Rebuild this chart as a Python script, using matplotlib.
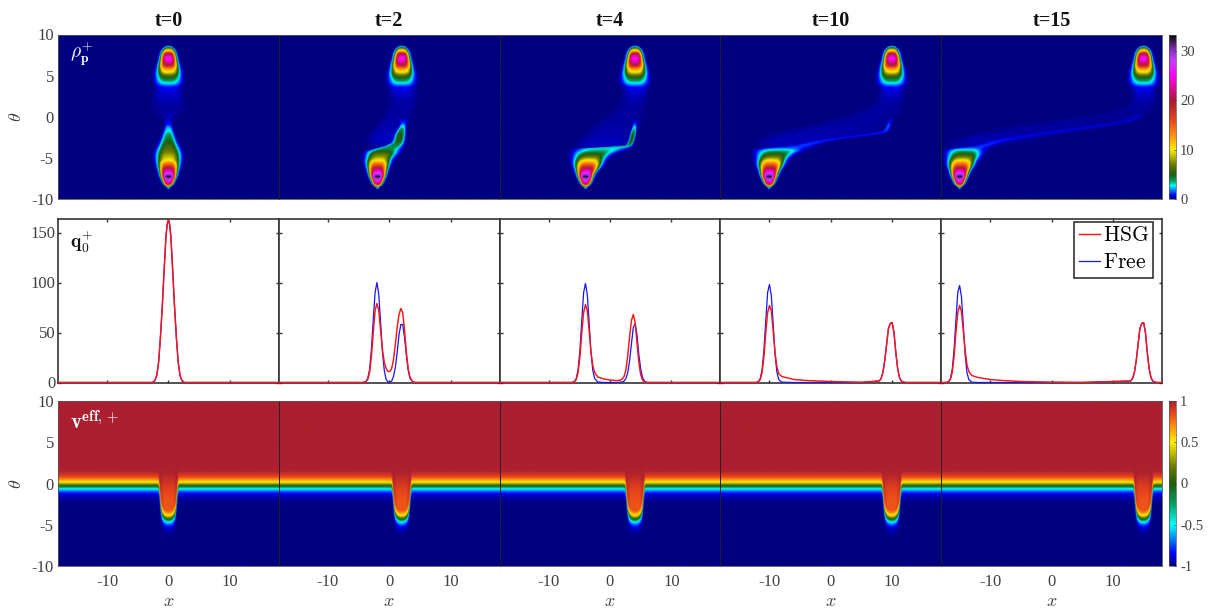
import numpy as np
import matplotlib
matplotlib.use("Agg")
import matplotlib.pyplot as plt
from matplotlib.colors import LinearSegmentedColormap, Normalize
from matplotlib.cm import ScalarMappable

plt.rcParams['font.family'] = ['Liberation Serif', 'DejaVu Serif']
plt.rcParams['mathtext.fontset'] = 'cm'
plt.rcParams['axes.unicode_minus'] = False

W, H = 1208, 608
GREY = '#404040'
TIMES = [0, 2, 4, 10, 15]
TITLES = ['t=0', 't=2', 't=4', 't=10', 't=15']

# --- colour scales
RHO_STOPS = [0, .8, 2.7, 3.6, 5, 7, 10, 13, 16, 19.5, 21, 25, 28, 30, 32, 33.3]
RHO_COLORS = ['#000080', '#0000ff', '#00ffff', '#00a060', '#1f5c10', '#6b7a00', '#ffee00', '#ff8c10',
              '#e8451a', '#ab1f2f', '#c4105a', '#ff00ff', '#c83cff', '#9030d0', '#3a1a50', '#000000']
V_STOPS = [-1, -.85, -.5, -.25, 0, .2, .5, .7, .85, 1]
V_COLORS = ['#000080', '#0000ff', '#00ffff', '#00a060', '#1f5c10', '#6b7a00', '#ffee00', '#ff8c10',
            '#e8451a', '#ab1f2f']

# --- rho: upper lobe (same in every panel, centred on x=+t)
UP_THETA = [3.6, 4.05, 4.6, 5.0, 5.4, 5.8, 6.2, 6.6, 7.1, 7.4, 7.7, 7.9, 8.1, 8.5, 8.65]
UP_PEAK = [0, 2.7, 4.6, 6.5, 10, 13, 19, 23, 26, 23, 19, 13, 10, 3, 0]
UP_HALF = [1.95, 1.95, 1.9, 1.82, 1.68, 1.55, 1.42, 1.28, 1.15, 1.1, 1.05, 1.0, .93, .6, .3]

# --- rho: lower lobe + strand, per panel
LOW_THETA = {
    0: [-8.9, -8.6, -8.3, -8, -7.6, -7.3, -7, -6.5, -5.9, -5.3, -4.6, -4, -3, -2.2, -1.7, -1.3, -1, -.5, 0, 1],
    2: [-8.9, -8.6, -8.3, -8, -7.6, -7.3, -7, -6.5, -5.9, -5.3, -4.9, -4.5, -4.2, -3.9, -3.6, -3.2, -2.8, -2.2, -1.6, -1.2, -.8, -.4],
    4: [-8.9, -8.6, -8.3, -8, -7.6, -7.3, -7, -6.5, -5.9, -5.3, -4.9, -4.5, -4.2, -3.9, -3.7, -3.5, -3, -2.4, -1.8, -1.3, -.9, -.5],
    10: [-8.9, -8.6, -8.3, -8, -7.6, -7.3, -7, -6.5, -5.9, -5.3, -4.9, -4.5, -4.2, -4, -3.85, -3.6, -3.3, -3, -2.7, -2.4, -2.1, -1.85, -1.5, -1.1, -.6, -.2],
    15: [-8.9, -8.6, -8.3, -8, -7.6, -7.3, -7, -6.5, -5.9, -5.3, -4.9, -4.5, -4.2, -4, -3.85, -3.6, -3.3, -3, -2.7, -2.4, -2.1, -1.8, -1.5, -1.2, -.9, -.6, -.2, .3],
}
LOW_LEFT = {
    0: [-.1, -.3, -.62, -.8, -.95, -1.08, -1.18, -1.32, -1.52, -1.72, -1.8, -1.65, -1.15, -.85, -.7, -.6, -.55, -.6, -.9, -1.5],
    2: [-2.05, -2.25, -2.57, -2.75, -2.9, -3.03, -3.13, -3.27, -3.47, -3.62, -3.55, -3.5, -3.3, -2.2, -.6, .5, .8, 1.0, 1.4, 1.7, 1.8, 1.6],
    4: [-4.15, -4.35, -4.67, -4.85, -5, -5.13, -5.23, -5.37, -5.57, -5.67, -5.65, -5.65, -5.5, -5.1, -.5, 2.6, 3.0, 3.2, 3.4, 3.6, 3.7, 3.6],
    10: [-10.1, -10.3, -10.62, -10.8, -10.95, -11.08, -11.18, -11.32, -11.52, -11.62, -11.65, -11.7, -11.7, -11.6, -11.2, -6.5, -4.5, -2.5, 0, 3, 6, 8.3, 8.9, 9.1, 9.4, 9.6],
    15: [-15.1, -15.3, -15.62, -15.8, -15.95, -16.08, -16.18, -16.32, -16.52, -16.62, -16.65, -16.7, -16.7, -16.6, -16, -12.5, -11, -10, -8, -5.5, -3, 0, 3, 6, 8.5, 11, 13, 14],
}
LOW_RIGHT = {
    0: [.1, .3, .62, .8, .95, 1.08, 1.18, 1.32, 1.52, 1.72, 1.8, 1.65, 1.15, .85, .7, .6, .55, .6, .9, 1.5],
    2: [-1.85, -1.65, -1.33, -1.15, -1.0, -.87, -.77, -.63, -.33, .02, .4, .95, 1.3, 1.6, 2.0, 2.3, 2.4, 2.5, 2.6, 2.6, 2.7, 3.0],
    4: [-3.95, -3.75, -3.43, -3.25, -3.1, -2.97, -2.87, -2.4, -1.83, -1.38, -.9, -.1, 1.1, 2.2, 3.0, 3.5, 3.8, 4.0, 4.15, 4.2, 4.3, 4.5],
    10: [-9.9, -9.7, -9.38, -9.2, -9.05, -8.92, -8.8, -8.5, -8.03, -7.58, -7.1, -6.3, -5.3, -4.8, -4.0, -3, -2, -.5, 2.3, 5.2, 8.5, 9.3, 9.6, 9.8, 10, 10.2],
    15: [-14.9, -14.7, -14.38, -14.2, -14.05, -13.92, -13.8, -13.5, -13.03, -12.58, -12.1, -11.7, -11.5, -11.3, -10.8, -10, -9, -7.8, -5.5, -3, -.2, 2.8, 5.8, 8.5, 11, 13, 14.3, 15],
}
LOW_PEAK = {
    0: [0, 4, 17, 24, 29, 33, 29, 23, 16, 10, 8, 6.5, 5, 3.8, 2.8, 2, 1, .5, .25, 0],
    2: [0, 4, 17, 24, 29, 33, 29, 23, 16, 10, 8, 6.5, 5, 4, 4, 4.5, 5, 5, 4, 2.6, 1, .4],
    4: [0, 4, 17, 24, 29, 33, 29, 23, 16, 10, 7, 5, 3.6, 3.0, 3.2, 4, 5, 5, 4, 2.5, 1, .4],
    10: [0, 4, 17, 24, 29, 33, 29, 23, 16, 10, 7, 5, 3.6, 2.6, 1.4, .95, .85, .8, .75, .75, .85, 1.0, 1.3, 1.3, .7, .3],
    15: [0, 4, 17, 24, 29, 33, 29, 23, 16, 10, 7, 5, 3.6, 2.6, 1.4, .9, .75, .62, .52, .46, .43, .4, .4, .4, .42, .45, .42, .3],
}

# --- rho: faint blue haze, per panel
HAZE_THETA = {
    0: [-1, 0, 1, 2, 3, 3.6, 4.0],
    2: [-4, -3, -2, -1, 0, 1, 2, 3, 3.6, 4.0],
    4: [-4, -3.5, -3, -2, -1, 0, 1, 2, 3, 3.6, 4.0],
    10: [-4, -3.5, -3, -2.5, -2, -1, 0, 1, 2, 3, 3.6, 4.0],
    15: [-4, -3.5, -3, -2.5, -2, -1, 0, 1, 2, 3, 3.6, 4.0],
}
HAZE_LEFT = {
    0: [-1, -2.2, -2.9, -2.6, -2.2, -1.9, -1.8],
    2: [-3.5, -3.5, -3, -2, -1, -.2, .2, .1, 0, 0],
    4: [-5.6, -5.6, -5, -4, -2.5, -1, .8, 2, 2.2, 2.2, 2.2],
    10: [-11.4, -11.5, -11.5, -10.5, -9, -3, 2, 6, 7.8, 8.2, 8.2, 8.2],
    15: [-16.3, -16.5, -16, -15, -12, -6, 5, 12, 13.2, 13.2, 13.2, 13.2],
}
HAZE_RIGHT = {
    0: [1, 2.2, 2.9, 2.6, 2.2, 1.9, 1.8],
    2: [1.0, 1.5, 2, 3, 3.6, 4.2, 4.4, 4.2, 3.9, 3.9],
    4: [3, 3.4, 3.6, 4, 5, 5.5, 5.8, 5.9, 5.9, 5.9, 5.9],
    10: [-4, -2, -.5, 3, 8, 9.5, 11, 11.8, 11.9, 11.9, 11.9, 11.9],
    15: [-10, -8, -5, -1, 3, 12, 15.5, 16.8, 16.9, 16.9, 16.9, 16.9],
}
HAZE_PEAK = {
    0: [0, .1, .2, .35, .6, .9, 0],
    2: [0, .45, .4, .3, .25, .25, .3, .55, .9, 0],
    4: [0, .45, .4, .3, .25, .2, .2, .3, .55, .9, 0],
    10: [0, .35, .4, .35, .3, .25, .2, .2, .3, .55, .9, 0],
    15: [0, .3, .35, .3, .25, .2, .18, .2, .3, .55, .9, 0],
}

# --- v_eff: value across the front, and front depth along x relative to x=+t
V_OFFSET = [-2.4, -1.7, -1.3, -1.0, -.75, -.5, -.3, -.12, 0, .15, .3, .48, .68, .88, 1.1, 1.4, 1.8, 2.4]
V_VALUE = [-1, -.97, -.93, -.88, -.76, -.6, -.42, -.18, 0, .2, .35, .5, .65, .75, .84, .92, .98, 1]
FRONT_DX = [-20, -1.75, -1.6, -1.5, -1.4, -1.3, -1.2, -1.0, -.7, -.35, 0, .35, .7, 1.0, 1.2, 1.3, 1.4, 1.5, 1.6, 1.75, 20]
FRONT_THETA = [-.28, -.28, -.4, -.8, -1.6, -2.5, -3.2, -3.8, -4.15, -4.3, -4.33, -4.3, -4.15, -3.8, -3.2, -2.5, -1.6, -.8, -.4, -.28, -.28]
# orange tone kept inside the dip
CAP_THETA = [-5, -2, -1, 0, 1, 1.8]
CAP_VALUE = [.82, .82, .85, .9, .97, 1]
CAP_DX = [-1.5, -1.1, -.7, .7, 1.1, 1.5]
CAP_WEIGHT = [0, .7, 1, 1, .7, 0]

# --- q curves
Q_X = {
    0: [-18, -2.6, -2.2, -1.9, -1.6, -1.3, -1.0, -.7, -.4, -.2, 0, .2, .4, .7, 1.0, 1.3, 1.6, 1.9, 2.2, 2.6, 18],
    2: [-18, -4.2, -3.8, -3.5, -3.2, -2.9, -2.6, -2.3, -2.0, -1.7, -1.4, -1.1, -.8, -.5, -.2, .1, .4, .7, 1.0, 1.3, 1.6, 1.9, 2.2, 2.5, 2.8, 3.1, 3.4, 3.8, 4.2, 18],
    4: [-18, -6.2, -5.8, -5.5, -5.2, -4.9, -4.6, -4.3, -4, -3.7, -3.4, -3.1, -2.8, -2.5, -2, -1, 0, 1, 1.6, 2, 2.3, 2.6, 2.9, 3.2, 3.5, 3.8, 4.1, 4.4, 4.7, 5, 5.3, 5.6, 6, 18],
    10: [-18, -12.2, -11.8, -11.5, -11.2, -10.9, -10.6, -10.3, -10, -9.7, -9.4, -9.1, -8.8, -8.5, -8, -6, -4, 0, 5, 7.9, 8.2, 8.5, 8.8, 9.1, 9.4, 9.7, 10, 10.3, 10.6, 10.9, 11.2, 11.5, 11.8, 12.2, 18],
    15: [-18, -17.2, -16.8, -16.5, -16.2, -15.9, -15.6, -15.3, -15, -14.7, -14.4, -14.1, -13.8, -13.5, -13, -12, -10, -8, -5, 0, 5, 12.9, 13.2, 13.5, 13.8, 14.1, 14.4, 14.7, 15, 15.3, 15.6, 15.9, 16.2, 16.5, 16.8, 17.2, 18],
}
Q_HSG = {
    0: [0, 0, 2, 7, 20, 45, 76, 112, 146, 158, 163, 158, 146, 112, 76, 45, 20, 7, 2, 0, 0],
    2: [0, 0, 1, 3, 10, 26, 50, 72, 79, 72, 52, 33, 20, 14, 11, 11, 14, 23, 38, 55, 68, 74, 70, 52, 30, 14, 5, 1, 0, 0],
    4: [0, 0, 1, 3, 10, 26, 50, 70, 78, 72, 52, 30, 17, 10, 5.5, 3.5, 2.5, 2, 2.2, 3.5, 6, 13, 27, 46, 62, 68, 60, 40, 20, 8, 2.5, .5, 0, 0],
    10: [0, 0, 1, 3, 10, 26, 50, 70, 77, 72, 52, 30, 16, 9, 6, 3, 2, 1, .3, 1.5, 4, 10, 22, 38, 54, 59, 60, 50, 30, 14, 5, 1.5, .5, 0, 0],
    15: [0, 0, 1, 3, 10, 26, 50, 70, 77, 71, 52, 32, 18, 11, 7, 5, 3, 2, 1, .4, .1, 1.5, 4, 10, 22, 38, 54, 59, 60, 50, 30, 14, 5, 1.5, .5, 0, 0],
}
Q_FREE = {
    0: [0, 0, 2, 7, 20, 45, 76, 112, 146, 158, 163, 158, 146, 112, 76, 45, 20, 7, 2, 0, 0],
    2: [0, 0, 1, 4, 13, 33, 63, 90, 100, 88, 60, 30, 12, 3, .5, .5, 1.5, 6, 15, 30, 48, 58, 58, 45, 27, 12, 4, 1, 0, 0],
    4: [0, 0, 1, 4, 13, 33, 62, 90, 99, 88, 60, 30, 12, 4, .5, 0, 0, 0, .3, .5, 1.5, 4, 10, 22, 39, 55, 59, 48, 28, 14, 5, 1.5, 0, 0],
    10: [0, 0, 1, 4, 13, 33, 62, 90, 98, 87, 59, 29, 11, 3, .3, 0, 0, 0, 0, 1.5, 4, 10, 22, 38, 54, 59, 60, 50, 30, 14, 5, 1.5, .5, 0, 0],
    15: [0, 0, 1, 4, 13, 33, 62, 90, 97, 86, 58, 28, 10, 3, .3, 0, 0, 0, 0, 0, 0, 1.5, 4, 10, 22, 38, 54, 59, 60, 50, 30, 14, 5, 1.5, .5, 0, 0],
}

# --- axes ticks
X_TICKS = [-10, 0, 10]
THETA_TICKS = [-10, -5, 0, 5, 10]
Q_TICKS = [0, 50, 100, 150]
RHO_CBAR_TICKS = [0, 10, 20, 30]
V_CBAR_TICKS = [-1, -.5, 0, .5, 1]


def px_axes(fig, x0, y0, x1, y1):
    return fig.add_axes([x0 / W, 1 - y1 / H, (x1 - x0) / W, (y1 - y0) / H])


cmap_rho = LinearSegmentedColormap.from_list('rho', [(s / 33.3, c) for s, c in zip(RHO_STOPS, RHO_COLORS)], N=512)
cmap_v = LinearSegmentedColormap.from_list('v', [((s + 1) / 2, c) for s, c in zip(V_STOPS, V_COLORS)], N=512)
norm_rho = Normalize(0, 33.3)
norm_v = Normalize(-1, 1)

xg = np.linspace(-18, 18, 662)
tg = np.linspace(-10, 10, 500)


def ridge(th, left, right, peak, p=3.5):
    l = np.interp(tg, th, left)[:, None]
    r = np.interp(tg, th, right)[:, None]
    a = np.interp(tg, th, peak, left=0, right=0)[:, None]
    c, w = (l + r) / 2, np.maximum((r - l) / 2, 1e-3)
    return a * np.exp(-np.abs((xg[None, :] - c) / w) ** p)


def rho_field(t):
    up = ridge(UP_THETA, [t - h for h in UP_HALF], [t + h for h in UP_HALF], UP_PEAK)
    low = ridge(LOW_THETA[t], LOW_LEFT[t], LOW_RIGHT[t], LOW_PEAK[t])
    haze = ridge(HAZE_THETA[t], HAZE_LEFT[t], HAZE_RIGHT[t], HAZE_PEAK[t], p=4.0)
    return up + low + haze


def v_field(t):
    front = np.interp(xg - t, FRONT_DX, FRONT_THETA)
    v = np.interp(tg[:, None] - front[None, :], V_OFFSET, V_VALUE)
    weight = np.interp(xg - t, CAP_DX, CAP_WEIGHT, left=0, right=0)
    cap = 1 - weight[None, :] * (1 - np.interp(tg, CAP_THETA, CAP_VALUE)[:, None])
    return np.minimum(v, cap)


fig = plt.figure(figsize=(W / 100, H / 100), dpi=100)
edges = np.linspace(58, 1162, 6)
ROWS = [(34.5, 199), (218.5, 382.5), (401, 566)]

for i, t in enumerate(TIMES):
    x0, x1 = edges[i], edges[i + 1]
    # top row
    ax = px_axes(fig, x0, ROWS[0][0], x1, ROWS[0][1])
    ax.imshow(rho_field(t), origin='lower', extent=(-18, 18, -10, 10), aspect='auto',
              cmap=cmap_rho, norm=norm_rho, interpolation='bilinear')
    ax.set_xticks([])
    ax.set_title(TITLES[i], fontsize=14.5, fontweight='bold', color='#111111', pad=6)
    # middle row
    am = px_axes(fig, x0, ROWS[1][0], x1, ROWS[1][1])
    am.plot(Q_X[t], Q_FREE[t], color='#1414ff', lw=.9, label=r'$\mathrm{Free}$', zorder=3, clip_on=False)
    am.plot(Q_X[t], Q_HSG[t], color='#ff1414', lw=1.05, label=r'$\mathrm{HSG}$', zorder=4, clip_on=False)
    am.set_xlim(-18, 18)
    am.set_ylim(0, 164)
    am.set_xticks(X_TICKS)
    am.set_yticks(Q_TICKS)
    am.tick_params(direction='in', length=2, width=1, top=True, right=True, labelbottom=False,
                   color='#333333', labelcolor=GREY, labelsize=12, pad=2)
    for s in am.spines.values():
        s.set_linewidth(1.2)
        s.set_color('#333333')
    # bottom row
    ab = px_axes(fig, x0, ROWS[2][0], x1, ROWS[2][1])
    ab.imshow(v_field(t), origin='lower', extent=(-18, 18, -10, 10), aspect='auto',
              cmap=cmap_v, norm=norm_v, interpolation='bilinear')
    ab.set_xticks(X_TICKS)
    ab.set_xlabel(r'$x$', fontsize=13, color=GREY, labelpad=2)
    ab.tick_params(axis='x', length=0, labelcolor=GREY, labelsize=12, pad=6)

    for a in (ax, ab):
        a.set_yticks(THETA_TICKS)
        a.tick_params(axis='y', length=0, labelcolor=GREY, labelsize=12, pad=3)
        for s in a.spines.values():
            s.set_linewidth(.6)
            s.set_color('#555555')
        if i:
            a.spines['left'].set_color('#222222')
            a.spines['left'].set_linewidth(.7)
    if i == 0:
        ax.set_ylabel(r'$\theta$', fontsize=13, color=GREY, labelpad=5)
        ab.set_ylabel(r'$\theta$', fontsize=13, color=GREY, labelpad=5)
        ax.text(.055, .885, r'$\rho_{\mathbf{p}}^{+}$', transform=ax.transAxes, color='white', fontsize=14, va='center')
        am.text(.055, .86, r'$\mathbf{q}_{\mathbf{0}}^{+}$', transform=am.transAxes, color='#111111', fontsize=14, va='center')
        ab.text(.055, .87, r'$\mathbf{v}^{\mathbf{eff},+}$', transform=ab.transAxes, color='white', fontsize=15, va='center')
    else:
        ax.tick_params(axis='y', labelleft=False)
        am.tick_params(axis='y', labelleft=False)
        ab.tick_params(axis='y', labelleft=False)
    if i == 4:
        h, l = am.get_legend_handles_labels()
        leg = am.legend(h[::-1], l[::-1], loc='upper right', bbox_to_anchor=(.96, .979), fontsize=15.5, fancybox=False,
                        framealpha=1, edgecolor='#333333', borderpad=.2, labelspacing=.32, handlelength=1.0,
                        handletextpad=.12, borderaxespad=0)
        leg.get_frame().set_linewidth(1.2)
        leg.set_zorder(6)

for (y0, y1), cm_, nm, ticks in ((ROWS[0], cmap_rho, norm_rho, RHO_CBAR_TICKS), (ROWS[2], cmap_v, norm_v, V_CBAR_TICKS)):
    cax = px_axes(fig, 1169, y0, 1176, y1)
    cb = fig.colorbar(ScalarMappable(norm=nm, cmap=cm_), cax=cax, ticks=ticks)
    cb.ax.set_yticklabels([f'{v:g}' for v in ticks])
    cb.ax.tick_params(direction='in', length=1.5, width=.5, color='#333333', labelcolor=GREY, labelsize=10.5, pad=3)
    cb.outline.set_linewidth(.5)
    cb.outline.set_edgecolor('#555555')

fig.savefig('out.png', dpi=100)
